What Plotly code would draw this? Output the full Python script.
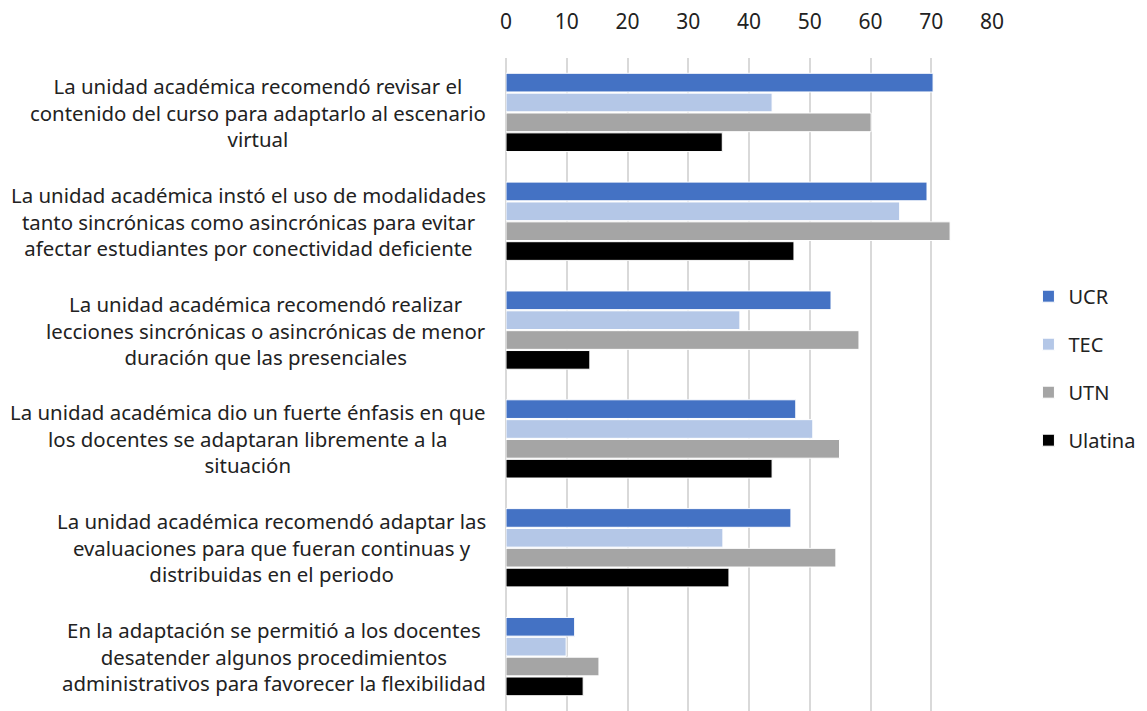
import plotly.graph_objects as go

categories = [
    "La unidad académica recomendó revisar el<br>contenido del curso para adaptarlo al escenario<br>virtual",
    "La unidad académica instó el uso de modalidades<br>tanto sincrónicas como asincrónicas para evitar<br>afectar estudiantes por conectividad deficiente",
    "La unidad académica recomendó realizar<br>lecciones sincrónicas o asincrónicas de menor<br>duración que las presenciales",
    "La unidad académica dio un fuerte énfasis en que<br>los docentes se adaptaran libremente a la<br>situación",
    "La unidad académica recomendó adaptar las<br>evaluaciones para que fueran continuas y<br>distribuidas en el periodo",
    "En la adaptación se permitió a los docentes<br>desatender algunos procedimientos<br>administrativos para favorecer la flexibilidad",
]
cat_ids = ["c1", "c2", "c3", "c4", "c5", "c6"]

ucr = [70.3, 69.3, 53.5, 47.7, 46.9, 11.3]
tec = [43.8, 64.8, 38.5, 50.5, 35.7, 9.9]
utn = [60.1, 73.1, 58.1, 54.9, 54.3, 15.3]
ulatina = [35.6, 47.4, 13.8, 43.8, 36.7, 12.7]

series = [("UCR", ucr, "#4472C4"), ("TEC", tec, "#B4C7E7"),
          ("UTN", utn, "#A5A5A5"), ("Ulatina", ulatina, "#000000")]
x_ticks = [0, 10, 20, 30, 40, 50, 60, 70, 80]

font_family = "Noto Sans, Open Sans, sans-serif"
text_color = "#222222"

fig = go.Figure()
for name, vals, color in series:
    fig.add_trace(go.Bar(
        y=cat_ids, x=vals, name=name, orientation="h",
        marker=dict(color=color, line=dict(color="white", width=1)),
        legendgroup=name,
    ))

for cid, label in zip(cat_ids, categories):
    fig.add_annotation(
        x=0, xref="paper", y=cid, yref="y", text=label,
        showarrow=False, xanchor="right", align="center",
        xshift=-18, font=dict(size=20.4, color=text_color, family=font_family),
    )

fig.update_layout(
    width=1139, height=703,
    margin=dict(l=498, r=155, t=50, b=0),
    paper_bgcolor="white", plot_bgcolor="white",
    barmode="group", bargap=0.27, bargroupgap=0.06,
    font=dict(family=font_family, color=text_color),
    legend=dict(
        x=1.075, y=0.525, xanchor="left", yanchor="middle",
        font=dict(size=20, color=text_color, family=font_family),
        tracegroupgap=19, traceorder="grouped", itemwidth=30,
    ),
    showlegend=True,
)
fig.update_xaxes(
    side="top", range=[0, 80], tickvals=x_ticks, automargin=False,
    tickfont=dict(size=21, color=text_color, family=font_family),
    ticklabelstandoff=24,
    showgrid=True, gridcolor="#D9D9D9", gridwidth=2,
    zeroline=True, zerolinecolor="#D9D9D9", zerolinewidth=2,
    showline=False, ticks="",
)
fig.update_yaxes(
    autorange="reversed", showticklabels=False, showgrid=False, automargin=False,
    ticks="", showline=False, categoryorder="array", categoryarray=cat_ids,
)

fig.write_html("out.html")
